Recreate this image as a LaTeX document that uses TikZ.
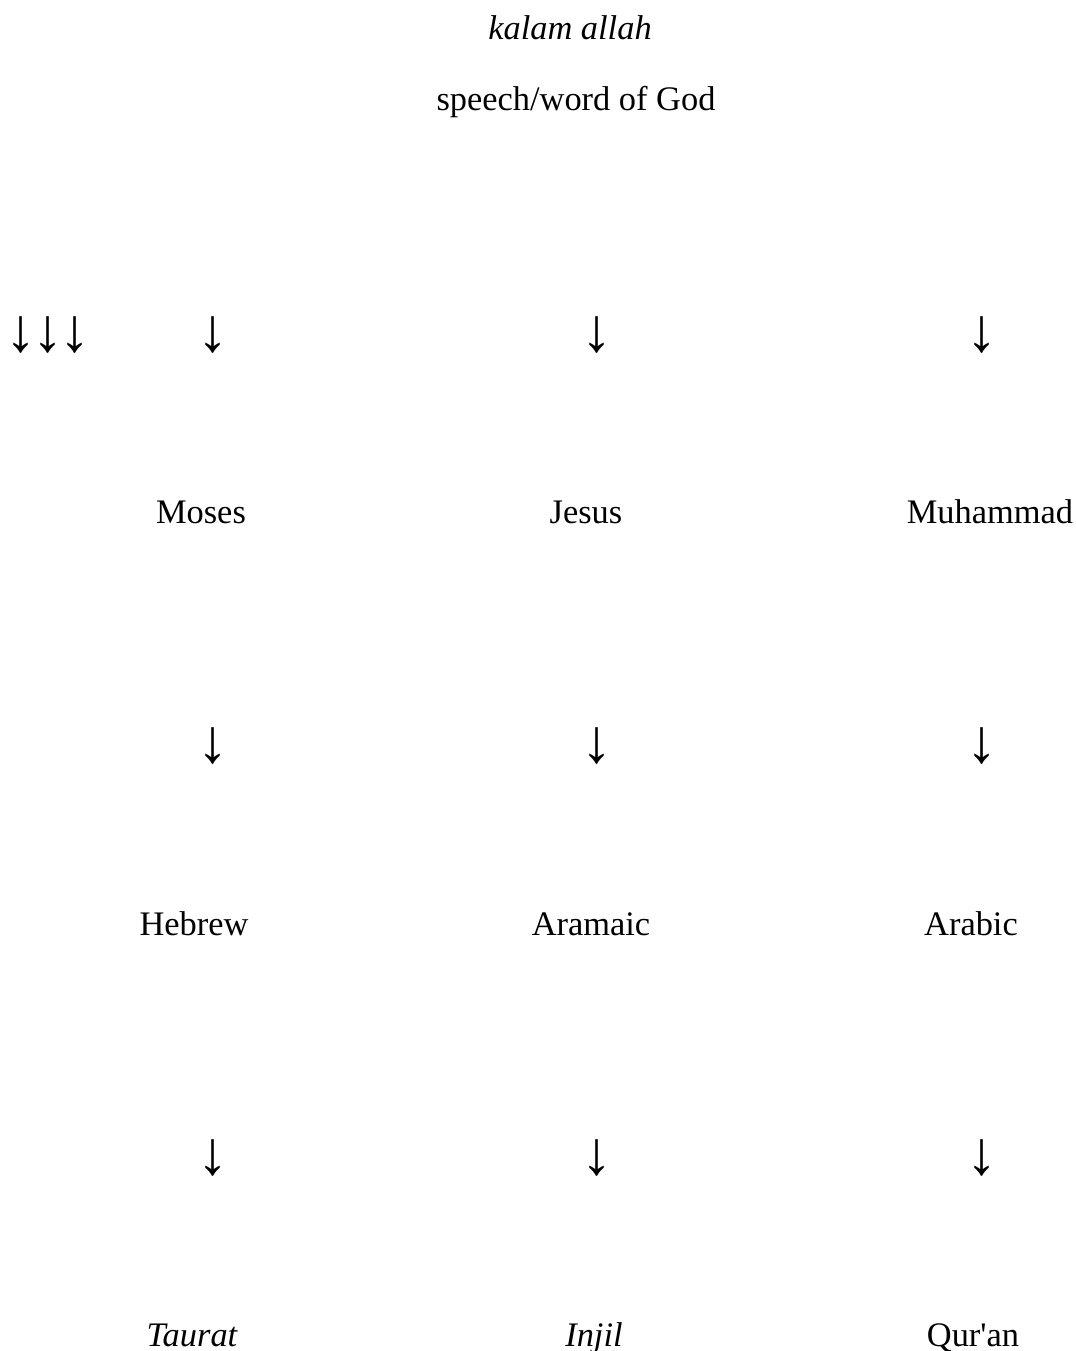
\documentclass[tikz,border=0pt]{standalone}
\usepackage{fontspec}
\setmainfont{Liberation Serif}[Ligatures=TeXOff]
\usepackage{tikz}
\usetikzlibrary{positioning}
\tikzset{
  kal/word/.style={
    anchor=base,
    inner sep=0pt,
    text=black,
    font=\fontsize{17.2pt}{20pt}\selectfont
  },
  kal/term/.style={
    kal/word,
    font=\fontsize{17.2pt}{20pt}\selectfont\itshape
  },
  kal/arrow/.style={
    anchor=center,
    inner sep=0pt,
    text=black,
    font=\fontsize{31pt}{34pt}\selectfont
  }
}
\begin{document}
\begin{tikzpicture}[x=0.5pt,y=-0.5pt]
  \useasboundingbox (0,0) rectangle (1076,1351);
  \node[kal/term] (kalam) at (570,39) {kalam allah};
  \node[kal/word] (speech) at (576,110) {speech/word of God};
  \node[kal/arrow] (triple) at (48,335) {↓\kern-2.2pt↓\kern-2.2pt↓};
  \node[kal/arrow] (toMoses) at (213,335) {↓};
  \node[kal/arrow] (toJesus) at (597,335) {↓};
  \node[kal/arrow] (toMuhammad) at (982,335) {↓};
  \node[kal/word] (moses) at (201,523) {Moses};
  \node[kal/word] (jesus) at (586,523) {Jesus};
  \node[kal/word] (muhammad) at (990,523) {Muhammad};
  \node[kal/arrow] (toHebrew) at (213,746) {↓};
  \node[kal/arrow] (toAramaic) at (597,746) {↓};
  \node[kal/arrow] (toArabic) at (982,746) {↓};
  \node[kal/word] (hebrew) at (194,935) {Hebrew};
  \node[kal/word] (aramaic) at (591,935) {Aramaic};
  \node[kal/word] (arabic) at (971,935) {Arabic};
  \node[kal/arrow] (toTaurat) at (213,1158) {↓};
  \node[kal/arrow] (toInjil) at (597,1158) {↓};
  \node[kal/arrow] (toQuran) at (982,1158) {↓};
  \node[kal/term] (taurat) at (192,1346) {Taurat};
  \node[kal/term] (injil) at (594,1346) {Injil};
  \node[kal/word] (quran) at (973,1346) {Qur'an};
\end{tikzpicture}
\end{document}
